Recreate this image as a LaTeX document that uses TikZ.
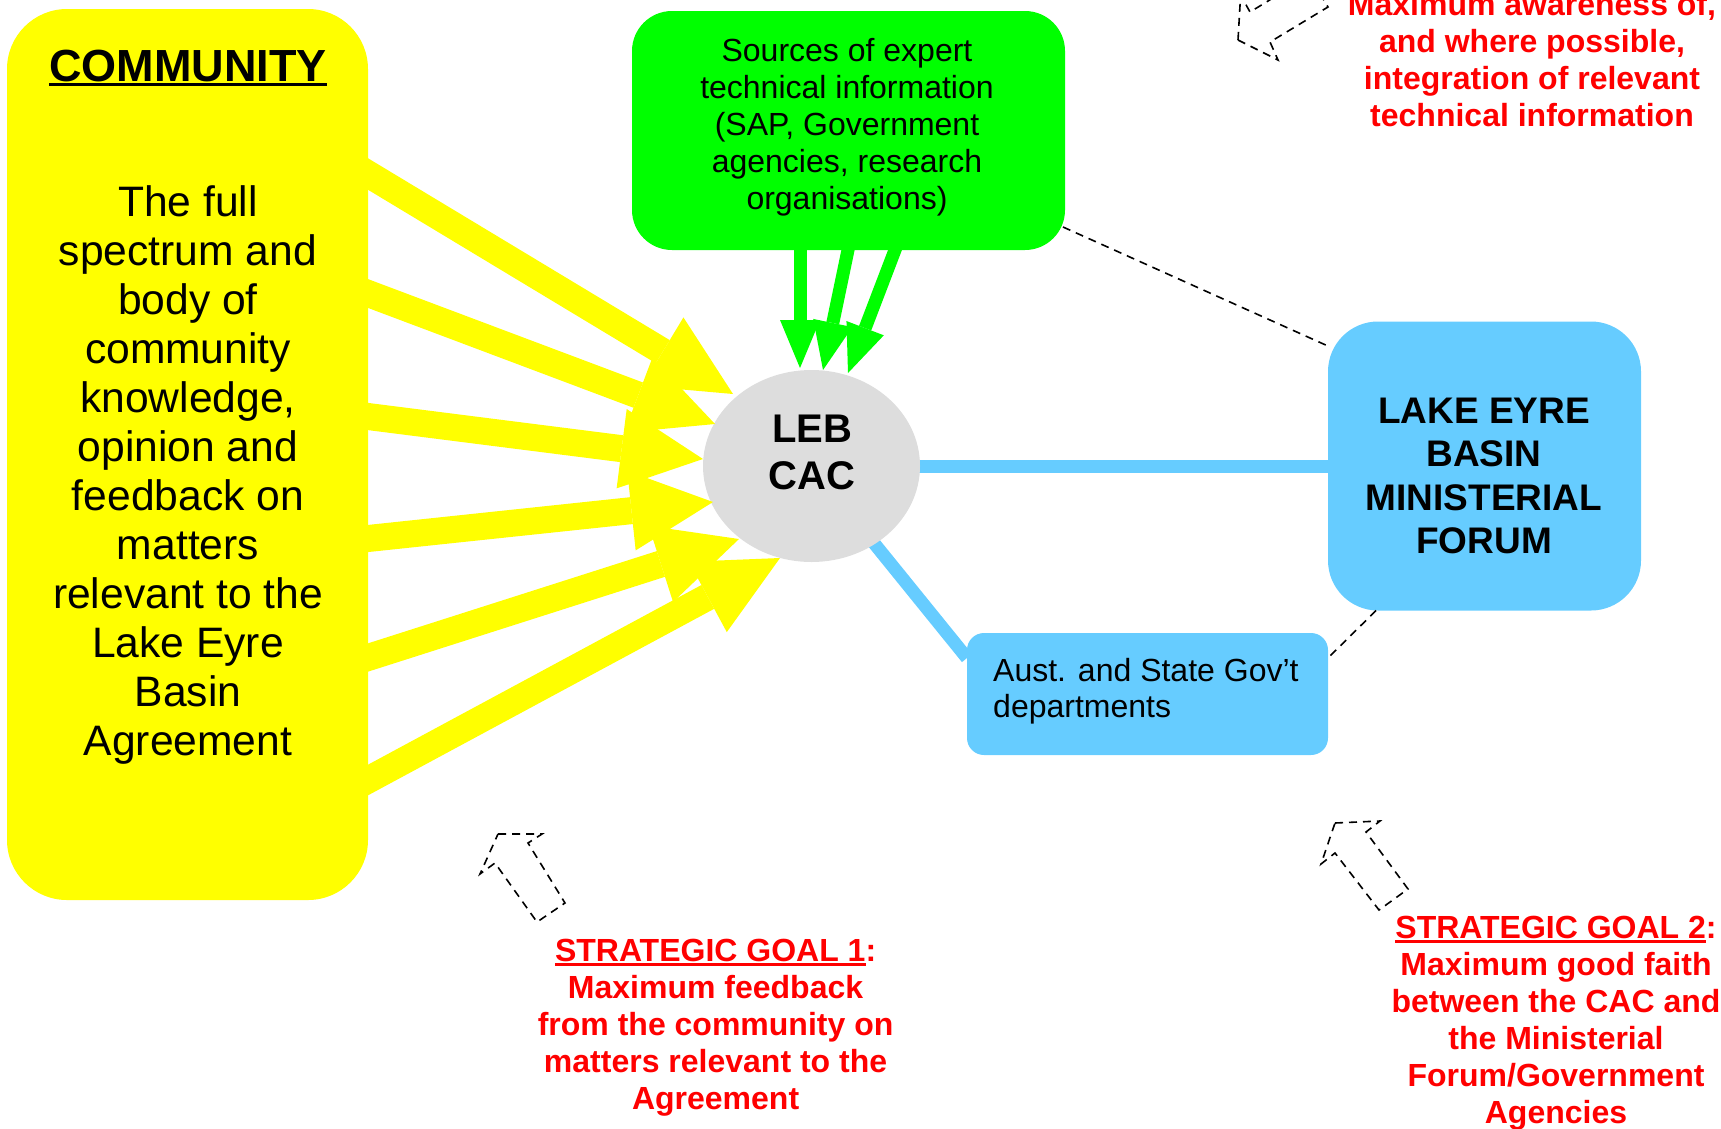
\documentclass[tikz,border=0pt]{standalone}
\usepackage{fontspec}
\setmainfont{Liberation Sans}
\usetikzlibrary{shapes.geometric,arrows.meta,calc}
\pgfdeclarelayer{bg}
\pgfsetlayers{bg,main}
\definecolor{cyel}{HTML}{FFFF00}
\definecolor{cgrn}{HTML}{00FF00}
\definecolor{cblu}{HTML}{66CCFF}
\definecolor{cgry}{HTML}{DDDDDD}
\definecolor{cred}{HTML}{FF0000}
\newcommand{\ulx}[3]{\setbox0\hbox{#1}\rlap{\rule[-#2]{\wd0}{#3}}\box0}
\begin{document}
\begin{tikzpicture}[x=1pt,y=-1pt,
  shapebox/.style={inner sep=0pt, outer sep=0pt, draw=none},
  yarrow/.style={draw=cyel, line width=27pt, shorten <=-30pt, -{Triangle[length=82pt,width=80pt,line width=0pt]}},
  garrow/.style={draw=cgrn, line width=13pt, shorten <=-8pt, -{Triangle[length=48pt,width=40pt,line width=0pt]}},
  bline/.style={draw=cblu, line width=13pt},
  dline/.style={draw=black, line width=1.6pt, dash pattern=on 8pt off 6pt},
  goaltext/.style={text=cred, font=\fontsize{32}{37}\selectfont\bfseries, align=center, inner sep=0pt}]
\useasboundingbox (0,0) rectangle (1721,1128);

% boxes
\node[shapebox, fill=cyel, rounded corners=60pt, minimum width=361pt, minimum height=891pt] (comm) at (187.5,454.5) {};
\node[shapebox, fill=cgrn, rounded corners=40pt, minimum width=433pt, minimum height=239pt] (green) at (848.5,130.5) {};
\node[shapebox, ellipse, fill=cgry, minimum width=217pt, minimum height=192pt] (cac) at (811.5,466) {};
\node[shapebox, fill=cblu, rounded corners=50pt, minimum width=313pt, minimum height=289pt] (min) at (1484.5,466) {};
\node[shapebox, fill=cblu, rounded corners=17pt, minimum width=361pt, minimum height=122pt] (aust) at (1147.5,694) {};

% texts
\node[font=\fontsize{45}{52}\selectfont\bfseries, anchor=base, inner sep=0pt] (commtitle) at (188,81) {\ulx{COMMUNITY}{5pt}{3.3pt}};
\node[font=\fontsize{42.6}{49}\selectfont, align=center, inner sep=0pt] (commtext) at (188,475)
  {The full\\spectrum and\\body of\\community\\knowledge,\\opinion and\\feedback on\\matters\\relevant to the\\Lake Eyre\\Basin\\Agreement};
\node[font=\fontsize{32}{37}\selectfont, align=center, inner sep=0pt] (greentext) at (847,127)
  {Sources of expert\\technical information\\(SAP, Government\\agencies, research\\organisations)};
\node[font=\fontsize{40}{47}\selectfont\bfseries, align=center, inner sep=0pt] (cactext) at (812,452.5) {LEB\\CAC};
\node[font=\fontsize{37}{43.5}\selectfont\bfseries, align=center, inner sep=0pt] (mintext) at (1484,475.8)
  {LAKE EYRE\\BASIN\\MINISTERIAL\\FORUM};
\node[font=\fontsize{32}{36.5}\selectfont, align=left, anchor=west, inner sep=0pt] (austtext) at (993,691)
  {Aust. and State Gov’t\\departments};

\node[goaltext] (goal0) at (1532,59.5)
  {Maximum awareness of,\\and where possible,\\integration of relevant\\technical information};
\node[goaltext] (goal1) at (715.6,1028)
  {\ulx{STRATEGIC GOAL 1}{4pt}{2.5pt}:\\Maximum feedback\\from the community on\\matters relevant to the\\Agreement};
\node[goaltext] (goal2) at (1556,1023.5)
  {\ulx{STRATEGIC GOAL 2}{4pt}{2.5pt}:\\Maximum good faith\\between the CAC and\\the Ministerial\\Forum/Government\\Agencies};

% blue connectors
\begin{pgfonlayer}{bg}
\draw[bline] (cac.center) -- (min.center);
\draw[bline] (cac.center) -- ($(aust.north west)+(0,25)$);
\end{pgfonlayer}

% dashed connectors
\draw[dline] ($(green.south east)+(-2,-23)$) -- ($(min.north west)+(1,25)$);
\draw[dline] ($(min.south west)+(48,0)$) -- ($(aust.north east)+(0,25)$);

% yellow arrows
\coordinate (ys1) at (368,174);   \coordinate (yt1) at (733,394);
\coordinate (ys2) at (368,293.5); \coordinate (yt2) at (715,424);
\coordinate (ys3) at (368,416.5); \coordinate (yt3) at (703,459);
\coordinate (ys4) at (368,538.5); \coordinate (yt4) at (713,502);
\coordinate (ys5) at (368,657.5); \coordinate (yt5) at (739,539);
\coordinate (ys6) at (368,780);   \coordinate (yt6) at (780,558);
\foreach \i in {1,...,6} {\draw[yarrow] (ys\i) -- (yt\i);}

% green arrows
\coordinate (gs1) at (800,250); \coordinate (gt1) at (800,368);
\coordinate (gs2) at (848,250); \coordinate (gt2) at (823,370);
\coordinate (gs3) at (895,250); \coordinate (gt3) at (848,373);
\foreach \i in {1,2,3} {\draw[garrow] (gs\i) -- (gt\i);}

% dashed block arrows
\draw[dline] (1238,40) -- (1278,60) -- (1270,42) -- (1328,7) -- (1309,-24) -- (1250,12) -- (1240.6,-5) -- cycle;
\draw[dline] (498,834) -- (542,834) -- (528,843) -- (565,903) -- (537,922) -- (495,863) -- (480,874) -- cycle;
\draw[dline] (1335,823) -- (1380,821) -- (1366,832) -- (1408,889) -- (1379,910) -- (1335,853) -- (1321,864) -- cycle;
\end{tikzpicture}
\end{document}
